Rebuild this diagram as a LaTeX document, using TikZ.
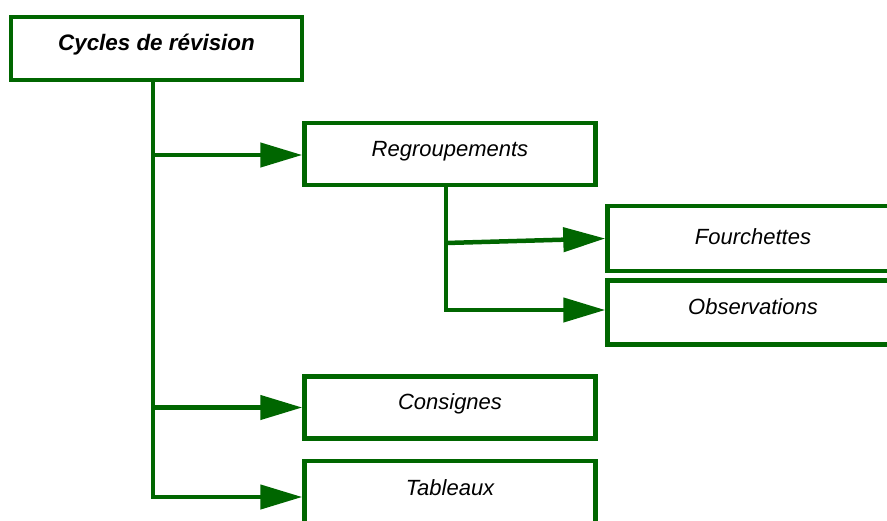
\documentclass[tikz,border=0pt]{standalone}
\usepackage{fontspec}
\setmainfont{Liberation Sans}
\usetikzlibrary{arrows.meta, positioning}
\definecolor{treegreen}{RGB}{0,102,0}

\begin{document}
\begin{tikzpicture}[x=1pt, y=-1pt,
    tbox/.style={rectangle, draw=treegreen, line width=4.5pt, fill=white, minimum width=291pt, minimum height=62pt, font=\fontsize{22}{26}\selectfont\itshape, text height=16pt, text depth=12pt},
    link/.style={draw=treegreen, line width=4.5pt},
    arrowlink/.style={link, -{Triangle[length=42pt, width=24pt]}},
]
    \clip (0,0) rectangle (887,520);

    \node[tbox, minimum height=63pt, font=\fontsize{22.4}{26}\selectfont\bfseries\itshape] (root) at (156.5,48.5) {Cycles de révision};

    \node[tbox] (regroup) at (450,154) {Regroupements};
    \node[tbox, minimum height=65pt, text depth=4pt] (fourch) at (753,238.5) {Fourchettes};
    \node[tbox, minimum height=64pt] (observ) at (753,312.5) {Observations};
    \node[tbox] (consignes) at (450,407.5) {Consignes};
    \node[tbox, minimum height=64pt] (tableaux) at (450,493) {Tableaux};

    \coordinate (split) at (446,243);

    \draw[arrowlink] ([xshift=-3.5pt]root.south) |- ([yshift=-1pt]regroup.west);
    \draw[arrowlink] ([xshift=-3.5pt]root.south) |- (consignes.west);
    \draw[arrowlink] ([xshift=-3.5pt]root.south) |- ([yshift=-4pt]tableaux.west);

    \draw[arrowlink] ([xshift=-4pt]regroup.south) |- ([yshift=2.5pt]observ.west);
    \draw[arrowlink] (split) -- (fourch.west);
\end{tikzpicture}
\end{document}
